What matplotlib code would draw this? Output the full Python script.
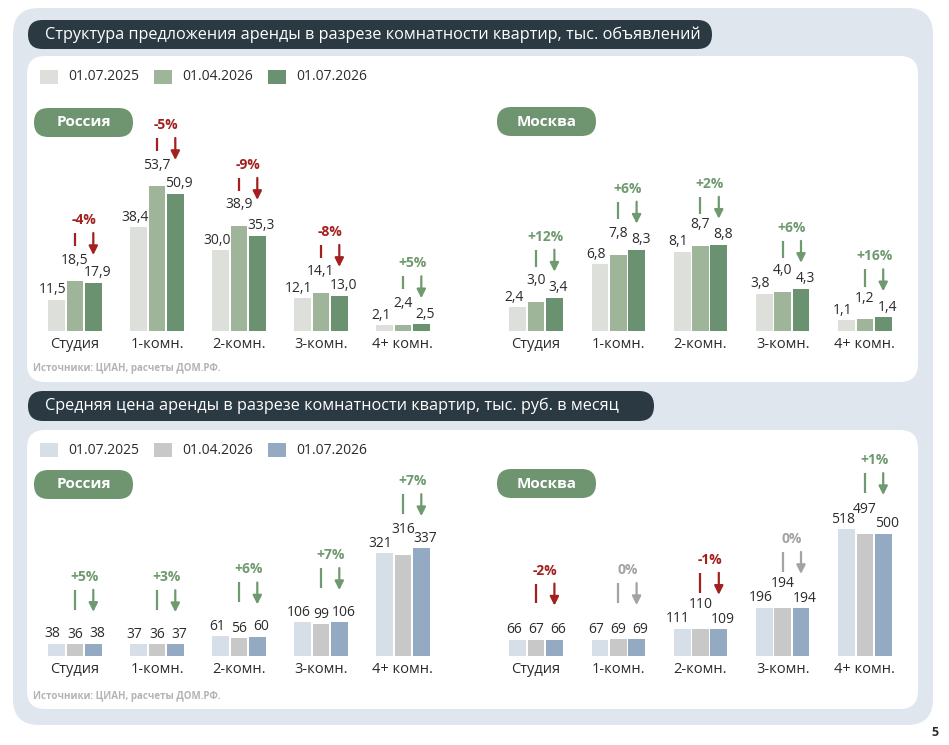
import matplotlib
matplotlib.use('Agg')
import matplotlib.pyplot as plt
from matplotlib.patches import FancyBboxPatch, Rectangle

plt.rcParams['font.family'] = ['Open Sans', 'DejaVu Sans']

categories = ['Студия', '1-комн.', '2-комн.', '3-комн.', '4+ комн.']
dates = ['01.07.2025', '01.04.2026', '01.07.2026']

# предложение, тыс. объявлений
supply_ru_2507 = [11.5, 38.4, 30.0, 12.1, 2.1]
supply_ru_2604 = [18.5, 53.7, 38.9, 14.1, 2.4]
supply_ru_2607 = [17.9, 50.9, 35.3, 13.0, 2.5]
supply_ru_change = [-4, -5, -9, -8, 5]

supply_msk_2507 = [2.4, 6.8, 8.1, 3.8, 1.1]
supply_msk_2604 = [3.0, 7.8, 8.7, 4.0, 1.2]
supply_msk_2607 = [3.4, 8.3, 8.8, 4.3, 1.4]
supply_msk_change = [12, 6, 2, 6, 16]

# цена, тыс. руб. в месяц
price_ru_2507 = [38, 37, 61, 106, 321]
price_ru_2604 = [36, 36, 56, 99, 316]
price_ru_2607 = [38, 37, 60, 106, 337]
price_ru_change = [5, 3, 6, 7, 7]

price_msk_2507 = [66, 67, 111, 196, 518]
price_msk_2604 = [67, 69, 110, 194, 497]
price_msk_2607 = [66, 69, 109, 194, 500]
price_msk_change = [-2, 0, -1, 0, 1]

title_top = 'Структура предложения аренды в разрезе комнатности квартир, тыс. объявлений'
title_bottom = 'Средняя цена аренды в разрезе комнатности квартир, тыс. руб. в месяц'
source = 'Источники: ЦИАН, расчеты ДОМ.РФ.'

green_cols = ['#dcdfda', '#9fb59a', '#6b9270']
blue_cols = ['#d6dfe8', '#c8c8c8', '#93aac2']
RED = '#a3201f'
GREEN = '#6f9a6f'
GREY = '#a3a3a3'
DARK = '#2b3a42'
PILL = '#6e9470'
TXT = '#2b2b2b'

W, H = 949, 745
fig = plt.figure(figsize=(W / 100, H / 100), dpi=100)
fig.patch.set_facecolor('white')
bg = fig.add_axes([0, 0, 1, 1])
bg.set_xlim(0, W)
bg.set_ylim(H, 0)
bg.axis('off')


def rbox(x, y, w, h, r, color):
    bg.add_patch(FancyBboxPatch((x, y), w, h, boxstyle=f'round,pad=0,rounding_size={r}',
                                fc=color, ec='none'))


# panels
rbox(13, 8, 920, 717, 26, '#dfe6ed')
rbox(27, 56, 891, 326, 18, 'white')
rbox(27, 430, 891, 279, 18, 'white')
rbox(28, 20, 684, 29, 14.5, DARK)
rbox(28, 391, 626, 30, 15, DARK)
bg.text(45, 35, title_top, color='white', fontsize=11.7, va='center')
bg.text(45, 406, title_bottom, color='white', fontsize=11.7, va='center')
bg.text(935, 733, '5', fontsize=9, fontweight='bold', color=TXT, ha='center', va='center')

for y0, cols in [(77, green_cols), (450, blue_cols)]:
    for i, (x, d) in enumerate(zip([40, 154, 268], dates)):
        bg.add_patch(Rectangle((x, y0 - 7), 18, 14, fc=cols[i], ec='none'))
        bg.text(x + 28, y0, d, fontsize=10, color=TXT, va='center')

for x, y, name in [(34, 108, 'Россия'), (497, 107, 'Москва'), (34, 470, 'Россия'), (497, 469, 'Москва')]:
    rbox(x, y, 99, 29, 14.5, PILL)
    bg.text(x + 49.5, y + 14.5, name, color='white', fontsize=11, fontweight='bold',
            ha='center', va='center')

bg.text(33, 369, source, fontsize=7, color='#b3b3b3', fontweight='bold', va='center')
bg.text(33, 697, source, fontsize=7, color='#b3b3b3', fontweight='bold', va='center')


def chart(left, right, top, base, scale, series, change, cols, fmt, gap, line_k, lift_px):
    ax = fig.add_axes([left / W, (H - base) / H, (right - left) / W, (base - top) / H])
    ax.set_facecolor('none')
    ax.set_xlim(-0.5, 4.5)
    ax.set_ylim(0, (base - top) / scale)
    step = (right - left) / 5
    bw = 16.7 / step
    off = 18.3 / step
    for j, vals in enumerate(series):
        xs = [i + (j - 1) * off for i in range(5)]
        ax.bar(xs, vals, width=bw, color=cols[j], linewidth=0)
        for x, v in zip(xs, vals):
            s = fmt(v)
            # средняя подпись выше, крайние чуть раздвинуты
            lift = lift_px if (j == 1 and len(s) >= 3) else 0
            ax.annotate(s, (x, v), xytext=((j - 1) * 4 * 0.72, (2.5 + lift) * 0.72),
                        textcoords='offset points',
                        ha='center', va='bottom', fontsize=10, color=TXT)
    for i, ch in enumerate(change):
        c = RED if ch < 0 else (GREEN if ch > 0 else GREY)
        label = f'+{ch}%' if ch > 0 else f'{ch}%'
        topv = max(s[i] for s in series)
        tip = topv + gap / scale
        atop = tip + 22 / scale
        ax.annotate('', xy=(i + off, tip), xytext=(i + off, atop),
                    arrowprops=dict(arrowstyle='-|>', color=c, lw=1.6, mutation_scale=13,
                                    shrinkA=0, shrinkB=0))
        ax.plot([i, i], [atop, atop - 22 * line_k / scale], color=c, lw=1.6,
                solid_capstyle='butt')
        ax.text(i + off / 2, atop + 13 / scale, label, color=c, fontsize=10, fontweight='bold',
                ha='center', va='center')
    ax.set_xticks(range(5))
    ax.set_xticklabels(categories, fontsize=10.5, color=TXT)
    ax.tick_params(length=0, pad=4)
    ax.set_yticks([])
    for s in ax.spines.values():
        s.set_visible(False)
    return ax


f1 = lambda v: f'{v:.1f}'.replace('.', ',')
f0 = lambda v: f'{v:.0f}'

chart(34, 444, 130, 331, 2.7, [supply_ru_2507, supply_ru_2604, supply_ru_2607],
      supply_ru_change, green_cols, f1, 26, 0.6, 11)
chart(495, 906, 130, 331, 9.8, [supply_msk_2507, supply_msk_2604, supply_msk_2607],
      supply_msk_change, green_cols, f1, 26, 0.8, 11)
chart(34, 444, 455, 656, 0.32, [price_ru_2507, price_ru_2604, price_ru_2607],
      price_ru_change, blue_cols, f0, 32, 0.9, 15)
chart(495, 906, 455, 656, 0.245, [price_msk_2507, price_msk_2604, price_msk_2607],
      price_msk_change, blue_cols, f0, 34, 0.9, 15)

fig.savefig('out.png', dpi=100, facecolor='white')
